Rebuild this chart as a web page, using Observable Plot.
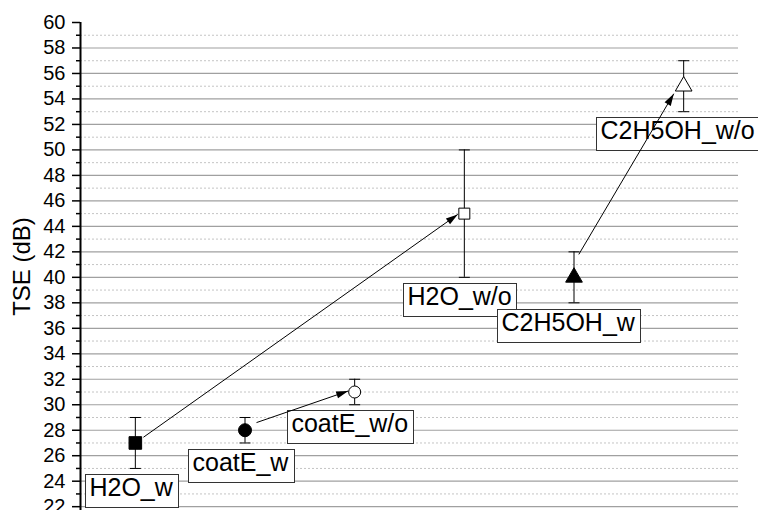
<!DOCTYPE html>
<html>
<head>
<meta charset="utf-8">
<script src="https://cdn.jsdelivr.net/npm/d3@7"></script>
<script src="https://cdn.jsdelivr.net/npm/@observablehq/plot@0.6"></script>
<style>
  html, body { margin: 0; padding: 0; background: #fff; }
  #chart { width: 758px; height: 510px; overflow: hidden; }
</style>
</head>
<body>
<div id="chart"></div>
<script>
// ---- data ----
const categories = ["H2O_w", "coatE_w", "coatE_w/o", "H2O_w/o", "C2H5OH_w", "C2H5OH_w/o"];
const tse = [27, 28, 31, 45, 40, 55];
const errLow = [25, 27, 30, 40, 38, 53];
const errHigh = [29, 29, 32, 50, 42, 57];
const majorTicks = d3.range(22, 61, 2);
const minorTicks = d3.range(23, 60, 2);
const yLabel = "TSE (dB)";

// annotation label anchors (data units: category index, dB)
const labelX = [0.536, 1.476, 2.378, 3.436, 4.293, 5.196];
const labelY = [23.45, 25.41, 28.47, 38.43, 36.39, 51.45];

// arrows (data units)
const arrowFromX = [1.074, 2.105, 5.044];
const arrowFromY = [27.45, 28.6, 41.8];
const arrowToX = [3.94, 2.941, 5.91];
const arrowToY = [44.94, 31.08, 54.41];

// ---- tables ----
const points = categories.map((c, i) => ({c, x: i + 1, y: tse[i], lo: errLow[i], hi: errHigh[i]}));
const labels = categories.map((c, i) => ({c, x: labelX[i], y: labelY[i]}));
const arrows = arrowFromX.map((d, i) => ({x1: d, y1: arrowFromY[i], x2: arrowToX[i], y2: arrowToY[i]}));

// marker styles
const markerStyle = [
  {symbol: "square", fill: "black", r: 7.1},
  {symbol: "circle", fill: "black", r: 6.5},
  {symbol: "circle", fill: "white", r: 6},
  {symbol: "square", fill: "white", r: 6.2},
  {symbol: "triangle", fill: "black", r: 6.2},
  {symbol: "triangle", fill: "white", r: 6.2}
];

const capSymbol = {draw(ctx) { ctx.moveTo(-5.5, 0); ctx.lineTo(5.5, 0); }};

function filledArrow(color, context) {
  const ns = "http://www.w3.org/2000/svg";
  const m = context.document.createElementNS(ns, "marker");
  m.setAttribute("viewBox", "-13 -5 14 10");
  m.setAttribute("markerWidth", 14);
  m.setAttribute("markerHeight", 10);
  m.setAttribute("markerUnits", "userSpaceOnUse");
  m.setAttribute("orient", "auto");
  m.setAttribute("refX", 0);
  m.setAttribute("refY", 0);
  m.setAttribute("overflow", "visible");
  const p = context.document.createElementNS(ns, "path");
  p.setAttribute("d", "M0,0L-12,-3.6L-12,3.6Z");
  p.setAttribute("fill", color);
  p.setAttribute("stroke", "none");
  m.appendChild(p);
  return m;
}

const plot = Plot.plot({
  width: 758,
  height: 510,
  marginLeft: 80,
  marginRight: 20,
  marginTop: 22,
  marginBottom: 0,
  style: {fontFamily: "'Liberation Sans', Arial, sans-serif", background: "white", color: "black", overflow: "visible"},
  x: {domain: [0.5, 6.5], axis: null},
  y: {domain: [21.7, 60], axis: null},
  marks: [
    Plot.gridY(minorTicks, {stroke: "#c4c4c4", strokeOpacity: 1, strokeDasharray: "2,2", strokeWidth: 1}),
    Plot.gridY(majorTicks.filter(d => d < 60), {stroke: "#a0a0a0", strokeOpacity: 1, strokeWidth: 1.2}),
    Plot.axisY(majorTicks, {tickSize: 8, tickPadding: 7, fontSize: 20, strokeWidth: 1.5, label: null, tickFormat: d => String(d), fill: "black"}),
    Plot.axisY(minorTicks, {tickSize: 4, text: null, strokeWidth: 1.5, label: null}),
    Plot.ruleX([0.5], {stroke: "black", strokeWidth: 2}),
    Plot.text([yLabel], {frameAnchor: "left", dx: -58, rotate: -90, text: d => d, fontSize: 24, fill: "black", textAnchor: "middle"}),
    Plot.ruleX(points, {x: "x", y1: "lo", y2: "hi", stroke: "black", strokeWidth: 1}),
    Plot.dot(points, {x: "x", y: "lo", symbol: capSymbol, fill: "none", stroke: "black", strokeWidth: 1}),
    Plot.dot(points, {x: "x", y: "hi", symbol: capSymbol, fill: "none", stroke: "black", strokeWidth: 1}),
    ...points.map((p, i) => Plot.dot([p], {x: "x", y: "y", symbol: markerStyle[i].symbol, r: markerStyle[i].r, fill: markerStyle[i].fill, stroke: "black", strokeWidth: 1})),
    Plot.text(labels, {x: "x", y: "y", text: "c", dx: 5, textAnchor: "start", fontSize: 25, fill: "black"}),
    Plot.link(arrows, {x1: "x1", y1: "y1", x2: "x2", y2: "y2", stroke: "black", strokeWidth: 1, markerEnd: filledArrow})
  ]
});

document.getElementById("chart").appendChild(plot);

// draw label boxes behind each annotation text (pixel-snapped)
const ns = "http://www.w3.org/2000/svg";
Array.from(plot.querySelectorAll("text"))
  .filter(t => categories.includes(t.textContent))
  .forEach(t => {
    const b = t.getBBox();
    const m = t.getCTM();
    const svgM = plot.getCTM();
    const inv = svgM ? svgM.inverse().multiply(m) : m;
    const x0 = Math.round(inv.e + b.x - 4.5) + 0.5;
    const y0 = Math.round(inv.f + b.y + 0.5) + 0.5;
    const w = Math.round(b.width + 9);
    const h = Math.round(b.height + 5);
    const r = document.createElementNS(ns, "rect");
    r.setAttribute("x", x0);
    r.setAttribute("y", y0);
    r.setAttribute("width", w);
    r.setAttribute("height", h);
    r.setAttribute("fill", "white");
    r.setAttribute("stroke", "#333");
    r.setAttribute("stroke-width", 1);
    r.setAttribute("transform", `translate(${-inv.e},${-inv.f})`);
    t.parentNode.insertBefore(r, t);
  });
// undo the parent transform so the rect's own coordinates are absolute
Array.from(plot.querySelectorAll("rect[transform]")).forEach(r => {
  const tr = r.getAttribute("transform");
  const mm = /translate\(([-\d.e]+),([-\d.e]+)\)/.exec(tr);
  if (!mm) return;
  const dx = -parseFloat(mm[1]), dy = -parseFloat(mm[2]);
  // parent group transform (if any) relative to svg
  const pm = r.parentNode.getCTM();
  const sm = plot.getCTM();
  const rel = sm ? sm.inverse().multiply(pm) : pm;
  r.setAttribute("x", parseFloat(r.getAttribute("x")) - rel.e);
  r.setAttribute("y", parseFloat(r.getAttribute("y")) - rel.f);
  r.removeAttribute("transform");
});
</script>
</body>
</html>
